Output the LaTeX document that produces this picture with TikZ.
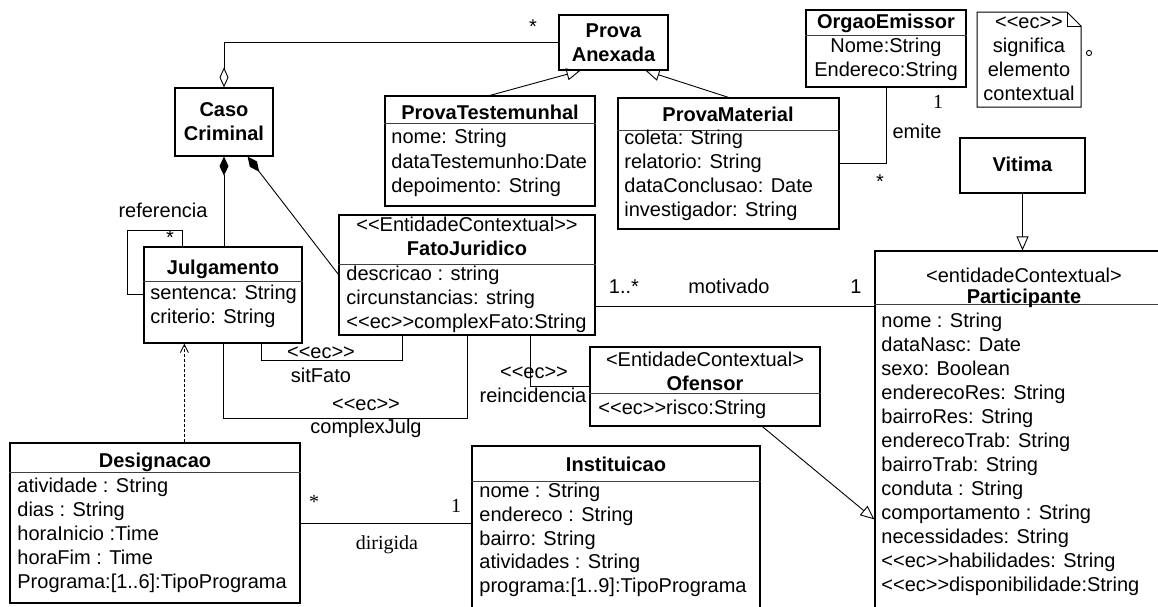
\documentclass[tikz,border=0pt]{standalone}
\usepackage{fontspec}
\setmainfont{Liberation Sans}[Ligatures=TeXOff]
\newfontfamily\timesfont{Liberation Serif}
\usetikzlibrary{arrows.meta, calc, fit, positioning}

\begin{document}
\begin{tikzpicture}[x=0.5pt, y=-0.5pt, font=\fontsize{10}{12}\selectfont,
  box/.style={draw, line width=0.6pt, inner sep=0pt},
  title/.style={font=\fontsize{10}{12}\selectfont\bfseries, inner sep=0pt, text height=7.5pt, text depth=2pt},
  multi/.style={inner sep=0pt, align=center},
  attr/.style={anchor=west, inner sep=0pt, text height=7.5pt, text depth=2pt},
  lbl/.style={inner sep=0pt, text height=7.5pt, text depth=2pt},
  sep/.style={line width=0.4pt, draw=black!75},
  conn/.style={line width=0.45pt},
  gen/.style={conn, -{Triangle[open, length=7pt, width=6pt]}},
  agg/.style={conn, -{Diamond[open, length=10pt, width=4.5pt]}},
  comp/.style={conn, {Diamond[length=9.5pt, width=4.5pt]}-},
  dep/.style={conn, dash pattern=on 1.5pt off 1pt, -{Straight Barb[length=4pt, width=4pt]}}]
\useasboundingbox (0,0) rectangle (1158,606);
\fill[white] (0,0) rectangle (1158,606);
\clip (0,0) rectangle (1158,606);

% classes
\node[box, fit={(175,88) (273,156)}] (caso) {};
\node[multi, font=\fontsize{10}{12}\selectfont\bfseries] (casoT) at (caso.center) {Caso\\Criminal};

\node[box, fit={(559,15) (668,70)}] (anexada) {};
\node[multi, font=\fontsize{10}{12}\selectfont\bfseries] (anexadaT) at (anexada.center) {Prova\\Anexada};

\node[box, fit={(385,96) (595,206)}] (testemunhal) {};
\draw[sep] ($(testemunhal.north west)+(0,28)$) -- ($(testemunhal.north east)+(0,28)$);
\node[title] (testemunhalT) at (490,114) {ProvaTestemunhal};
\foreach \a [count=\i from 0] in {nome: String, dataTestemunho:Date, depoimento: String}
  \node[attr] (testA\i) at (391,138+24.5*\i) {\a};

\node[box, fit={(618,98) (839,229)}] (material) {};
\draw[sep] ($(material.north west)+(0,33)$) -- ($(material.north east)+(0,33)$);
\node[title] (materialT) at (728,116) {ProvaMaterial};
\foreach \a [count=\i from 0] in {coleta: String, relatorio: String, dataConclusao: Date, investigador: String}
  \node[attr] (matA\i) at (624,139+24*\i) {\a};

\node[box, fit={(806,10) (966,87)}] (orgao) {};
\draw[sep] ($(orgao.north west)+(0,26)$) -- ($(orgao.north east)+(0,26)$);
\node[title] (orgaoT) at (886,23) {OrgaoEmissor};
\node[lbl] (orgaoA0) at (886,47) {Nome:String};
\node[lbl] (orgaoA1) at (886,71) {Endereco:String};

\node[box, fit={(960,138) (1085,193)}] (vitima) {};
\node[title] (vitimaT) at (vitima.center) {Vitima};

\node[box, fit={(875,251) (1180,640)}] (part) {};
\draw[sep] ($(part.north west)+(0,54)$) -- ($(part.north east)+(0,54)$);
\node[lbl] (partS) at (1024,277) {<entidadeContextual>};
\node[title] (partT) at (1024,298) {Participante};
\foreach \a [count=\i from 0] in {nome : String, dataNasc: Date, sexo: Boolean, enderecoRes: String, bairroRes: String, enderecoTrab: String, bairroTrab: String, conduta : String, comportamento : String, necessidades: String, <<ec>>habilidades: String, <<ec>>disponibilidade:String}
  \node[attr] (partA\i) at (881,322+24*\i) {\a};

\node[box, fit={(144,247) (302,343)}] (julg) {};
\draw[sep] ($(julg.north west)+(0,35)$) -- ($(julg.north east)+(0,35)$);
\node[title] (julgT) at (223,269) {Julgamento};
\node[attr] (julgA0) at (150,294) {sentenca: String};
\node[attr] (julgA1) at (150,318) {criterio: String};

\node[box, fit={(339,215) (595,335)}] (fato) {};
\draw[sep] ($(fato.north west)+(0,50)$) -- ($(fato.north east)+(0,50)$);
\node[lbl] (fatoS) at (467,226) {<<EntidadeContextual>>};
\node[title] (fatoT) at (467,250) {FatoJuridico};
\foreach \a [count=\i from 0] in {descricao : string, circunstancias: string, <<ec>>complexFato:String}
  \node[attr] (fatoA\i) at (346,275+24*\i) {\a};

\node[box, fit={(590,347) (820,426)}] (ofensor) {};
\draw[sep] ($(ofensor.north west)+(0,47)$) -- ($(ofensor.north east)+(0,47)$);
\node[lbl] (ofensorS) at (705,361) {<EntidadeContextual>};
\node[title] (ofensorT) at (705,385) {Ofensor};
\node[attr] (ofensorA0) at (598,409) {<<ec>>risco:String};

\node[box, fit={(10,443) (300,603)}] (design) {};
\draw[sep] ($(design.north west)+(0,30)$) -- ($(design.north east)+(0,30)$);
\node[title] (designT) at (155,462) {Designacao};
\foreach \a [count=\i from 0] in {atividade : String, dias : String, horaInicio :Time, horaFim : Time, Programa:[1..6]:TipoPrograma}
  \node[attr] (designA\i) at (17,487+24*\i) {\a};

\node[box, fit={(472,446) (760,640)}] (instit) {};
\draw[sep] ($(instit.north west)+(0,36)$) -- ($(instit.north east)+(0,36)$);
\node[title] (institT) at (616,466) {Instituicao};
\foreach \a [count=\i from 0] in {nome : String, endereco : String, bairro: String, atividades : String, programa:[1..9]:TipoPrograma}
  \node[attr] (institA\i) at (479,492+23.8*\i) {\a};

% note
\draw[conn, line width=0.5pt] (977,12) -- (1067,12) -- (1081,26) -- (1081,107) -- (977,107) -- cycle;
\draw[conn] (1067,12) -- (1067,26) -- (1081,26);
\node[multi] (noteT) at (1029,59) {<<ec>>\\significa\\elemento\\contextual};
\draw[conn] (1089,53) circle[radius=1.3pt];

% associations
\draw[agg] (anexada.west) -| (caso.north);
\node[lbl] (anexadaM) at (533,28) {*};
\draw[comp] (caso.south) -- (caso.south |- julg.north);
\draw[comp] ($(caso.south east)+(-26,0)$) -- ($(fato.north west)+(0,60)$);
\draw[conn] ($(julg.north west)+(0,48)$) -| ++(-16,-64) -| ($(julg.north west)+(39,0)$);
\node[lbl] (refL) at (163,212) {referencia};
\node[lbl] (refM) at (170,239) {*};

\draw[gen] (testemunhal.north) -- ($(anexada.south)+(-33,0)$);
\draw[gen] (material.north) -- ($(anexada.south)+(32,0)$);

\draw[conn] (orgao.south) |- (material.east);
\node[lbl] (emiteM1) at (938,103) {\timesfont 1};
\node[lbl] (emiteL) at (917,133) {emite};
\node[lbl] (emiteM2) at (880,183) {*};

\draw[conn] ($(fato.south east)+(0,-29)$) coordinate (mot) -- (mot -| part.west);
\node[lbl] (motM1) at (624,288) {1..*};
\node[lbl] (motL) at (729,288) {motivado};
\node[lbl] (motM2) at (856,288) {1};

\draw[gen] (vitima.south) -- (vitima.south |- part.north);
\draw[gen] ($(ofensor.south west)+(173,0)$) -- ($(part.north west)+(0,269)$);

\draw[conn] ($(julg.south west)+(118,0)$) -- ++(0,17) -| ($(fato.south west)+(64,0)$);
\node[lbl] (sitS) at (321,353) {<<ec>>};
\node[lbl] (sitL) at (321,377) {sitFato};

\draw[conn] (julg.south) -- ++(0,75) -| (fato.south);
\node[lbl] (cjS) at (366,405) {<<ec>>};
\node[lbl] (cjL) at (366,428) {complexJulg};

\draw[conn] ($(fato.south west)+(192,0)$) |- (ofensor.west);
\node[lbl] (reiS) at (534,373) {<<ec>>};
\node[lbl] (reiL) at (533,397) {reincidencia};

\draw[dep] ($(design.north west)+(175,0)$) coordinate (dd) -- (dd |- julg.south);

\draw[conn] (design.east) -- (design.east -| instit.west);
\node[lbl] (dirM1) at (314,503) {\timesfont *};
\node[lbl] (dirM2) at (456,507) {\timesfont 1};
\node[lbl] (dirL) at (387,544) {\timesfont dirigida};
\end{tikzpicture}
\end{document}
